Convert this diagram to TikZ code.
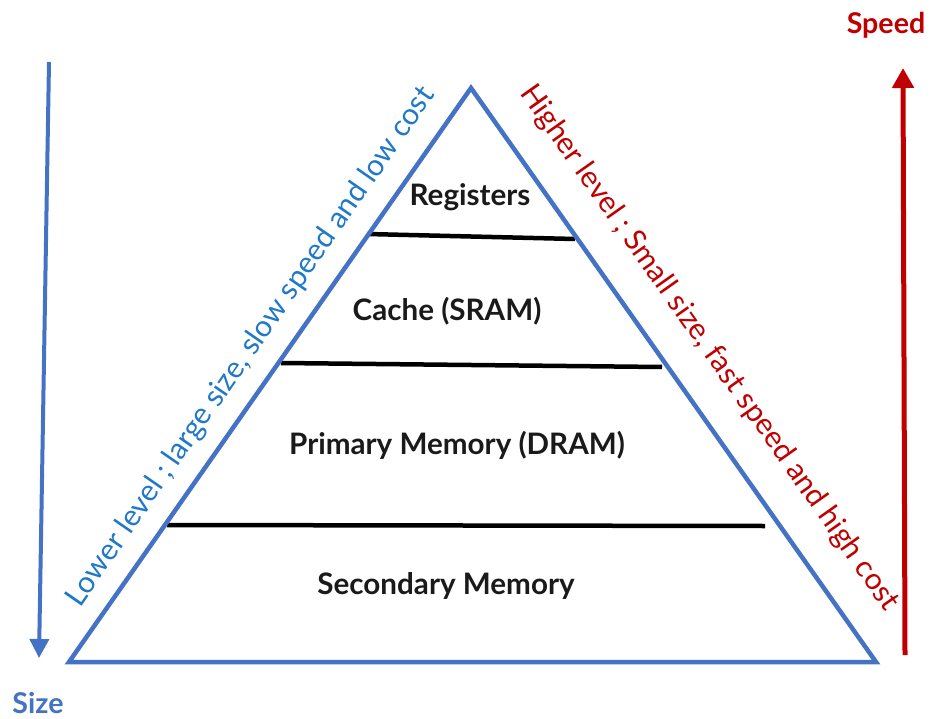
\documentclass[tikz,border=0pt]{standalone}
\usepackage{fontspec}
\setmainfont{Lato}
\usetikzlibrary{arrows.meta}
\definecolor{triblue}{HTML}{4472C4}
\definecolor{txtblue}{HTML}{1F78C8}
\definecolor{darkred}{HTML}{C00000}
\definecolor{lblblack}{HTML}{1A1A1A}
\tikzset{
  lbl/.style={font=\fontsize{29.6}{34}\selectfont\bfseries, text=lblblack, inner sep=0pt},
  sidelbl/.style={font=\fontsize{29.8}{34}\selectfont, inner sep=0pt},
  axislbl/.style={font=\fontsize{28.6}{33}\selectfont\bfseries, inner sep=0pt},
  layerline/.style={black, line width=4.5pt},
  tri/.style={triblue, line width=4.5pt, line join=miter},
}
\begin{document}
\begin{tikzpicture}[x=1pt,y=-1pt]
\useasboundingbox (0,0) rectangle (933,719);
% layer separators
\coordinate (l1a) at (367,234);
\coordinate (l1b) at (575,239);
\coordinate (l2a) at (281,363);
\coordinate (l2b) at (662,367);
\coordinate (l3a) at (167,525);
\coordinate (l3b) at (765,526);
\draw[layerline] (l1a) -- (l1b);
\draw[layerline] (l2a) -- (l2b);
\draw[layerline] (l3a) -- (l3b);
% pyramid
\coordinate (apex) at (471,88);
\coordinate (bl) at (69,662);
\coordinate (br) at (876,662);
\draw[tri] (apex) -- (bl) -- (br) -- cycle;
% level labels
\node[lbl] (reg) at (470,197) {Registers};
\node[lbl] (cache) at (447,311) {Cache (SRAM)};
\node[lbl] (prim) at (457,445) {Primary Memory (DRAM)};
\node[lbl] (sec) at (446,586) {Secondary Memory};
% side labels
\node[sidelbl, text=txtblue, rotate=55.3] (lower) at (251,347) {Lower level ; large size, slow speed and low cost};
\node[sidelbl, text=darkred, rotate=-54.8] (higher) at (709,348) {Higher level ; Small size, fast speed and high cost};
% axes
\coordinate (s0) at (49,62);
\coordinate (s1) at (39,658);
\draw[triblue, line width=4pt, -{Triangle[width=19pt,length=19pt]}] (s0) -- (s1);
\node[axislbl, text=triblue] (size) at (38,703) {Size};
\coordinate (p0) at (905,655);
\coordinate (p1) at (903,68);
\draw[darkred, line width=5pt, -{Triangle[width=21pt,length=20pt]}] (p0) -- (p1);
\node[axislbl, text=darkred] (speed) at (886,25) {Speed};
\end{tikzpicture}
\end{document}
